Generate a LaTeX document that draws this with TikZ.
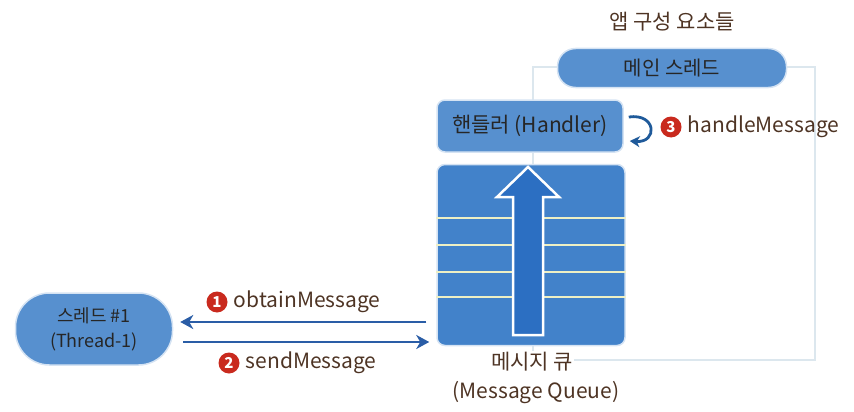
\documentclass[tikz,border=0pt]{standalone}
\usepackage{fontspec}
\setmainfont{Noto Sans CJK KR}
\usetikzlibrary{arrows.meta, calc, positioning}
\definecolor{boxblue}{HTML}{5790CF}
\definecolor{queueblue}{HTML}{4282CA}
\definecolor{shaftblue}{HTML}{2C6FC2}
\definecolor{framegray}{HTML}{DCE7EE}
\definecolor{linkblue}{HTML}{2A5DA6}
\definecolor{loopblue}{HTML}{1F5A9A}
\definecolor{labelbrown}{HTML}{4E3424}
\definecolor{boxtext}{HTML}{262626}
\definecolor{stepred}{HTML}{C92A1E}
\definecolor{queueline}{HTML}{EEF0C4}
\tikzstyle{pill} = [rectangle, fill=boxblue, draw=white!75!boxblue, line width=1.5pt, text=boxtext, align=center]
\tikzstyle{block} = [rectangle, rounded corners=8pt, fill=boxblue, draw=white!75!boxblue, line width=1.5pt, text=boxtext]
\tikzstyle{msglabel} = [text=labelbrown, inner sep=0pt, font=\fontsize{21}{25}\selectfont]
\tikzstyle{stepnum} = [circle, fill=stepred, text=white, inner sep=0pt, minimum size=21pt, font=\fontsize{15}{15}\selectfont\bfseries]
\tikzstyle{arrow} = [line width=2.8pt, draw=linkblue, -{Stealth[length=13pt, width=14pt, inset=4pt]}]

\begin{document}
\begin{tikzpicture}[x=1pt, y=-1pt, node distance = 6pt]
	\useasboundingbox (0,0) rectangle (854,412);
	\draw[framegray, line width=2.5pt] (533,67) rectangle (815,360);
	\node (Title) [msglabel] at (672,22) {앱 구성 요소들};
	\node (MainThread) [pill, minimum width=229pt, minimum height=39pt, rounded corners=18pt, font=\fontsize{20}{24}\selectfont] at (672,68) {메인 스레드};
	\node (Handler) [block, minimum width=186pt, minimum height=52pt, font=\fontsize{21}{25}\selectfont] at (530,126) {핸들러 (Handler)};
	\node (Queue) [block, fill=queueblue, minimum width=188pt, minimum height=181pt] at (531,255) {};
	\foreach \y in {218,245,272,297}
		\draw[queueline, line width=1.8pt] (Queue.west |- 0,\y) -- (Queue.east |- 0,\y);
	\draw[white, line width=2.5pt, fill=shaftblue] (513,335) -- (513,197) -- (497,197) -- (528,167) -- (559,197) -- (543,197) -- (543,335) -- cycle;
	\node (QueueName) [msglabel, fill=white, inner sep=1pt] at (532,362) {메시지 큐};
	\node (QueueEng) [msglabel] at (536,393) {(Message Queue)};
	\node (Thread) [pill, minimum width=157pt, minimum height=72pt, rounded corners=34pt, font=\fontsize{18}{25}\selectfont] at (94,329) {스레드 \#1\\(Thread-1)};
	\draw[arrow, shorten <=10pt, shorten >=7pt] (Queue.west |- 0,322) -- (Thread.east |- 0,322);
	\draw[arrow, shorten <=10pt, shorten >=7pt] (Thread.east |- 0,342) -- (Queue.west |- 0,342);
	\node (One) [stepnum] at (217,302) {1};
	\node (Obtain) [msglabel, right=6pt of One] {obtainMessage};
	\node (Two) [stepnum] at (229,363) {2};
	\node (Send) [msglabel, right=6pt of Two] {sendMessage};
	\node (Three) [stepnum] at (671,127) {3};
	\node (HandleMsg) [msglabel, right=6pt of Three] {handleMessage};
	\draw[arrow, draw=loopblue, -{Stealth[length=10pt, width=11pt, inset=3pt]}] ([shift={(5,-9)}]Handler.east) .. controls +(28,-4) and +(28,2) .. ([shift={(6,15)}]Handler.east);
\end{tikzpicture}
\end{document}
